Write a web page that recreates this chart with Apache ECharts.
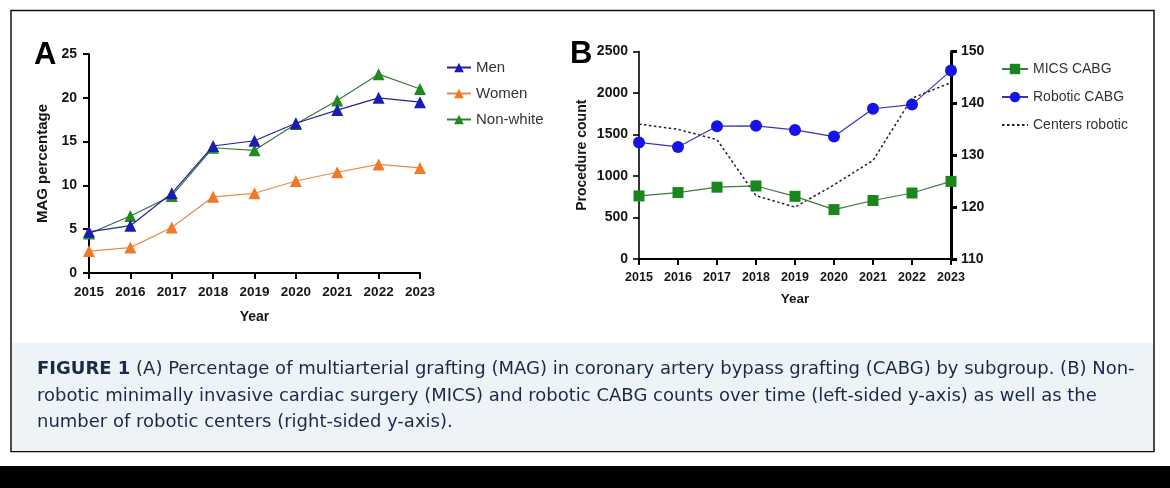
<!DOCTYPE html>
<html>
<head>
<meta charset="utf-8">
<script src="https://cdn.jsdelivr.net/npm/echarts@6/dist/echarts.min.js"></script>
<style>
html,body{margin:0;padding:0;background:#fff;}
#c{width:1170px;height:488px;}
</style>
</head>
<body>
<div id="c"></div>
<script>
// ---- data ----
const years = ['2015','2016','2017','2018','2019','2020','2021','2022','2023'];
const men = [4.7, 5.4, 9.1, 14.5, 15.1, 17.1, 18.6, 20.0, 19.5];
const women = [2.5, 2.9, 5.2, 8.7, 9.1, 10.5, 11.5, 12.4, 12.0];
const nonWhite = [4.5, 6.5, 8.8, 14.3, 14.0, 17.0, 19.7, 22.7, 21.0];
const micsCabg = [760, 800, 865, 880, 755, 595, 705, 795, 935];
const roboticCabg = [1405, 1350, 1600, 1605, 1555, 1475, 1810, 1860, 2270];
const centersRobotic = [136, 135, 133, 122.2, 120, 124.3, 129, 141, 144];
const captionLines = [
  '(A) Percentage of multiarterial grafting (MAG) in coronary artery bypass grafting (CABG) by subgroup. (B) Non-',
  'robotic minimally invasive cardiac surgery (MICS) and robotic CABG counts over time (left-sided y-axis) as well as the',
  'number of robotic centers (right-sided y-axis).'
];

const AF = 'Liberation Sans, Arial, sans-serif';
const CF = 'DejaVu Sans, sans-serif';
const tickLab = (size) => ({fontFamily: AF, fontWeight: 'bold', fontSize: size, color: '#151515'});
const plain = (v) => String(v);

const chart = echarts.init(document.getElementById('c'), null, {renderer: 'canvas'});

const option = {
  animation: false,
  backgroundColor: '#ffffff',
  textStyle: {fontFamily: AF},
  grid: [
    {left: 89, right: 750, top: 54, bottom: 215},
    {left: 639, right: 219, top: 51.5, bottom: 229}
  ],
  legend: [
    {
      data: ['Men', 'Women', 'Non-white'],
      orient: 'vertical', left: 441, top: 55, itemGap: 11,
      itemWidth: 24, itemHeight: 12,
      textStyle: {fontFamily: AF, fontSize: 15, color: '#333'}
    },
    {
      data: ['MICS CABG', 'Robotic CABG', {name: 'Centers robotic', itemStyle: {opacity: 0}}],
      orient: 'vertical', left: 996, top: 57, itemGap: 14,
      itemWidth: 26, itemHeight: 13,
      textStyle: {fontFamily: AF, fontSize: 14, color: '#333'}
    }
  ],
  xAxis: [
    {
      gridIndex: 0, type: 'category', data: years, boundaryGap: false,
      name: 'Year', nameLocation: 'middle', nameGap: 37,
      nameTextStyle: {fontFamily: AF, fontWeight: 'bold', fontSize: 14, color: '#151515'},
      axisLine: {lineStyle: {color: '#000', width: 2}},
      axisTick: {show: true, length: 6, lineStyle: {color: '#000', width: 2}},
      axisLabel: Object.assign({margin: 12, interval: 0}, tickLab(13.5)),
      splitLine: {show: false}
    },
    {
      gridIndex: 1, type: 'category', data: years, boundaryGap: false,
      name: 'Year', nameLocation: 'middle', nameGap: 33,
      nameTextStyle: {fontFamily: AF, fontWeight: 'bold', fontSize: 13.5, color: '#151515'},
      axisLine: {lineStyle: {color: '#000', width: 2}},
      axisTick: {show: true, length: 6, lineStyle: {color: '#000', width: 2}},
      axisLabel: Object.assign({margin: 12, interval: 0}, tickLab(12.5)),
      splitLine: {show: false}
    }
  ],
  yAxis: [
    {
      gridIndex: 0, type: 'value', min: 0, max: 25, interval: 5,
      name: 'MAG percentage', nameLocation: 'middle', nameGap: 39, nameRotate: 90,
      nameTextStyle: {fontFamily: AF, fontWeight: 'bold', fontSize: 15, color: '#151515'},
      axisLine: {show: true, lineStyle: {color: '#000', width: 2}},
      axisTick: {show: true, length: 6, lineStyle: {color: '#000', width: 2}},
      axisLabel: Object.assign({margin: 12, formatter: plain}, tickLab(14)),
      splitLine: {show: false}
    },
    {
      gridIndex: 1, type: 'value', min: 0, max: 2500, interval: 500,
      name: 'Procedure count', nameLocation: 'middle', nameGap: 50, nameRotate: 90,
      nameTextStyle: {fontFamily: AF, fontWeight: 'bold', fontSize: 14, color: '#151515'},
      axisLine: {show: true, lineStyle: {color: '#000', width: 1.6}},
      axisTick: {show: true, length: 6, lineStyle: {color: '#000', width: 1.6}},
      axisLabel: Object.assign({margin: 11, formatter: plain}, tickLab(14)),
      splitLine: {show: false}
    },
    {
      gridIndex: 1, type: 'value', position: 'right', min: 110, max: 150, interval: 10,
      axisLine: {show: true, onZero: false, lineStyle: {color: '#000', width: 3}},
      axisTick: {show: true, length: 6, lineStyle: {color: '#000', width: 3}},
      axisLabel: Object.assign({margin: 10, formatter: plain}, tickLab(14)),
      splitLine: {show: false}
    }
  ],
  series: [
    {
      name: 'Men', type: 'line', xAxisIndex: 0, yAxisIndex: 0, data: men,
      symbol: 'triangle', symbolSize: 12, z: 4,
      lineStyle: {color: '#23239a', width: 1.2},
      itemStyle: {color: '#1c1cb4'}
    },
    {
      name: 'Women', type: 'line', xAxisIndex: 0, yAxisIndex: 0, data: women,
      symbol: 'triangle', symbolSize: 12,
      lineStyle: {color: '#ea8a4a', width: 1.2},
      itemStyle: {color: '#f07a24'}
    },
    {
      name: 'Non-white', type: 'line', xAxisIndex: 0, yAxisIndex: 0, data: nonWhite,
      symbol: 'triangle', symbolSize: 12, z: 3,
      lineStyle: {color: '#3a7a3a', width: 1.2},
      itemStyle: {color: '#1d8a22'}
    },
    {
      name: 'MICS CABG', type: 'line', xAxisIndex: 1, yAxisIndex: 1, data: micsCabg,
      symbol: 'rect', symbolSize: 11,
      lineStyle: {color: '#3f7a3f', width: 1.2},
      itemStyle: {color: '#1a861e'}
    },
    {
      name: 'Robotic CABG', type: 'line', xAxisIndex: 1, yAxisIndex: 1, data: roboticCabg,
      symbol: 'circle', symbolSize: 12,
      lineStyle: {color: '#3535b5', width: 1.2},
      itemStyle: {color: '#1414e6'}
    },
    {
      name: 'Centers robotic', type: 'line', xAxisIndex: 1, yAxisIndex: 2, data: centersRobotic,
      symbol: 'none', showSymbol: false, z: 1,
      lineStyle: {color: '#222', width: 1.5, type: [2.5, 2.5]},
      itemStyle: {color: '#222'}
    }
  ],
  graphic: [
    {type: 'rect', z: -10, shape: {x: 11, y: 10.5, width: 1143, height: 441},
     style: {fill: '#ffffff', stroke: '#111', lineWidth: 1.5}},
    {type: 'rect', z: -9, shape: {x: 12, y: 343, width: 1141, height: 108},
     style: {fill: '#eef3f8', stroke: null}},
    {type: 'rect', z: -9, shape: {x: 0, y: 466, width: 1170, height: 22},
     style: {fill: '#000'}},
    {type: 'text', left: 34, top: 40, style: {text: 'A', fontFamily: AF, fontWeight: 'bold', fontSize: 31, fill: '#000'}},
    {type: 'text', left: 570, top: 39, style: {text: 'B', fontFamily: AF, fontWeight: 'bold', fontSize: 31, fill: '#000'}},
    {type: 'text', style: {
      x: 37, y: 369, verticalAlign: 'middle',
      text: '{b|FIGURE 1} ' + captionLines[0],
      fontFamily: CF, fontSize: 18, fill: '#1b2a47',
      rich: {b: {fontFamily: CF, fontWeight: 'bold', fontSize: 18, fill: '#1b2a47'}}
    }},
    {type: 'text', style: {x: 37, y: 396, verticalAlign: 'middle',
      text: captionLines[1], fontFamily: CF, fontSize: 18, fill: '#1b2a47'}},
    {type: 'text', style: {x: 37, y: 422, verticalAlign: 'middle',
      text: captionLines[2], fontFamily: CF, fontSize: 18, fill: '#1b2a47'}}
  ]
};
chart.setOption(option);
</script>
</body>
</html>
